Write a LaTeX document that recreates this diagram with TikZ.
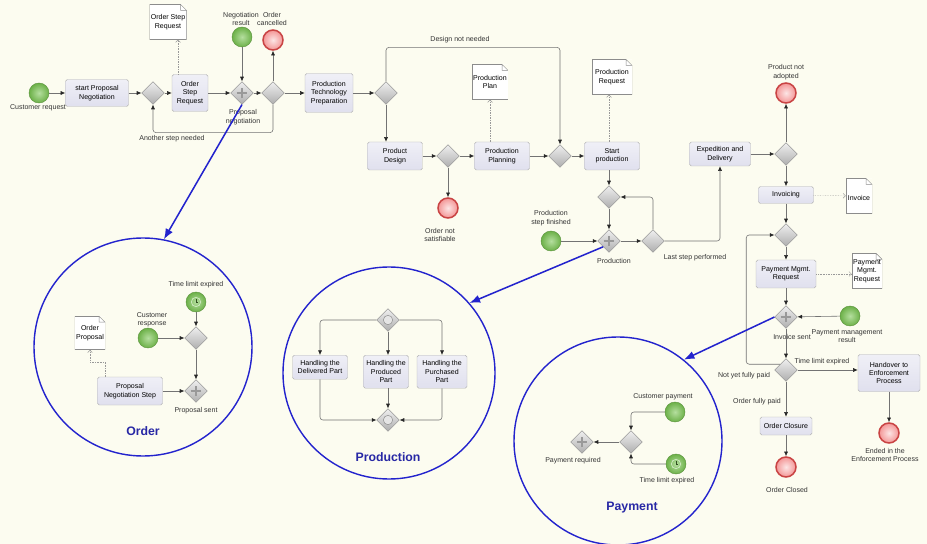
\documentclass[tikz,border=0pt]{standalone}
\usepackage{fontspec}
\setmainfont{Liberation Sans}
\usetikzlibrary{shapes.geometric}
\usetikzlibrary{arrows.meta}

\definecolor{fondo}{RGB}{252,252,240}
\definecolor{tarea}{RGB}{224,224,238}
\definecolor{verde}{RGB}{120,196,80}
\definecolor{rojo}{RGB}{236,80,80}
\definecolor{azul}{RGB}{35,35,205}
\definecolor{azultit}{RGB}{40,40,165}
\newcommand{\chico}{\fontsize{6}{7.2}\selectfont}

\tikzset{
  task/.style={rectangle, rounded corners=1.5pt, draw=black!30, top color=white!50!tarea, bottom color=tarea, font=\chico, align=center, inner sep=1.5pt},
  gate/.style={diamond, aspect=1, minimum size=0.68cm, inner sep=0pt, draw=black!40, top color=black!6, bottom color=black!32},
  pgate/.style={gate, path picture={\draw[black!40, line width=1.8pt] (path picture bounding box.center) +(-4.5pt,0) -- +(4.5pt,0) +(0,-4.5pt) -- +(0,4.5pt);}},
  igate/.style={gate, path picture={\draw[black!45, fill=black!10] (path picture bounding box.center) circle (4pt);}},
  start/.style={circle, minimum size=0.6cm, inner sep=0pt, draw=verde!75!black, inner color=white!45!verde, outer color=verde!90!black},
  timer/.style={start, path picture={\draw[white!70!verde, line width=0.5pt] (path picture bounding box.center) circle (4pt); \draw[verde!40!black, line width=0.4pt] (path picture bounding box.center) -- +(0,2.8pt) (path picture bounding box.center) -- +(2pt,0);}},
  endev/.style={circle, minimum size=0.6cm, inner sep=0pt, draw=rojo!85!black, line width=1.3pt, inner color=rojo!15, outer color=rojo!60},
  doc/.style={rectangle, fill=white, font=\chico, align=center, inner sep=1pt,
    path picture={
      \fill[fondo] ([xshift=-5pt]path picture bounding box.north east) -- (path picture bounding box.north east) -- ([yshift=-5pt]path picture bounding box.north east) -- cycle;
      \draw[black!45, line width=0.8pt] ([xshift=-5pt]path picture bounding box.north east) -- (path picture bounding box.north west) -- (path picture bounding box.south west) -- (path picture bounding box.south east) -- ([yshift=-5pt]path picture bounding box.north east);
      \draw[black!45, line width=0.4pt] ([xshift=-5pt]path picture bounding box.north east) |- ([yshift=-5pt]path picture bounding box.north east) -- cycle;
    }},
  lbl/.style={font=\chico, align=center, inner sep=0pt, text=black!80},
  flow/.style={draw=black!55, line width=0.5pt, rounded corners=2.5pt, -{Latex[length=4pt,width=3.5pt,color=black!85]}},
  assoc/.style={draw=black!40, line width=0.4pt, densely dotted, -{Straight Barb[length=2pt,width=4pt]}},
  ring/.style={circle, draw=azul, line width=1.2pt, inner sep=0pt},
  zoomarrow/.style={draw=azul, line width=1.3pt, -{Latex[length=9pt,width=7pt]}},
  ringtitle/.style={font=\bfseries\fontsize{10.5}{12}\selectfont, text=azultit}
}

\begin{document}
\begin{tikzpicture}[x=0.03cm, y=-0.03cm]
            \path[use as bounding box, fill=fondo] (0,0) rectangle (927,544);

            % Propuesta
            \node[start] (custreq) at (39,93) {};
            \node[lbl] (custreqlbl) at (38,108) {Customer request};
            \node[task, minimum width=1.89cm, minimum height=0.81cm] (startprop) at (97,93) {start Proposal\\Negotiation};
            \node[gate] (g1) at (153,93) {};
            \node[task, minimum width=1.08cm, minimum height=1.11cm] (orderstep) at (190,93) {Order\\Step\\Request};
            \node[doc, minimum width=1.11cm, minimum height=1.05cm] (orderstepdoc) at (168,22) {Order Step\\Request};
            \node[pgate] (propneg) at (242,93) {};
            \node[lbl] (propneglbl) at (243,117) {Proposal\\negotiation};
            \node[start] (negres) at (242,37) {};
            \node[lbl] (negreslbl) at (241,19) {Negotiation\\result};
            \node[gate] (g2) at (273,93) {};
            \node[endev] (ordcanc) at (273,40) {};
            \node[lbl] (ordcanclbl) at (272,19) {Order\\cancelled};
            \node[lbl] (anotherlbl) at (172,139) {Another step needed};

            % Produccion
            \node[task, minimum width=1.44cm, minimum height=1.17cm] (ptp) at (329,93) {Production\\Technology\\Preparation};
            \node[gate] (g3) at (386,93) {};
            \node[lbl] (designlbl) at (460,40) {Design not needed};
            \node[task, minimum width=1.65cm, minimum height=0.84cm] (pdesign) at (395,156) {Product\\Design};
            \node[gate] (g5) at (448,156) {};
            \node[endev] (notsat) at (448,208) {};
            \node[lbl] (notsatlbl) at (440,235) {Order not\\satisfiable};
            \node[task, minimum width=1.65cm, minimum height=0.84cm] (pplan) at (502,156) {Production\\Planning};
            \node[doc, minimum width=0.75cm, minimum height=1.05cm] (pplandoc) at (490,82) {Production\\Plan};
            \node[gate] (g4) at (560,156) {};
            \node[task, minimum width=1.65cm, minimum height=0.84cm] (startprod) at (612,156) {Start\\production};
            \node[doc, minimum width=1.2cm, minimum height=1.05cm] (prodreqdoc) at (612,77) {Production\\Request};
            \node[gate] (g6) at (609,197) {};
            \node[pgate] (prodpg) at (609,241) {};
            \node[lbl] (prodpglbl) at (614,261) {Production};
            \node[start] (stepfin) at (551,241) {};
            \node[lbl] (stepfinlbl) at (551,218) {Production\\step finished};
            \node[gate] (g7) at (653,241) {};
            \node[lbl] (lastlbl) at (695,258) {Last step performed};

            % Entrega y cobro
            \node[task, minimum width=1.83cm, minimum height=0.72cm] (exped) at (720,154) {Expedition and\\Delivery};
            \node[gate] (g8) at (786,154) {};
            \node[endev] (notadopt) at (786,93) {};
            \node[lbl] (notadoptlbl) at (786,72) {Product not\\adopted};
            \node[task, minimum width=1.65cm, minimum height=0.51cm] (invoicing) at (786,195) {Invoicing};
            \node[doc, minimum width=0.78cm, minimum height=1.05cm] (invdoc) at (859,196) {\mbox{}\\Invoice};
            \node[gate] (g9) at (786,235) {};
            \node[task, minimum width=1.8cm, minimum height=0.84cm] (paymreq) at (786,274) {Payment Mgmt.\\Request};
            \node[doc, minimum width=0.9cm, minimum height=1.05cm] (paymdoc) at (867,271) {Payment\\Mgmt.\\Request};
            \node[pgate] (invsent) at (786,317) {};
            \node[lbl] (invsentlbl) at (792,337) {Invoice sent};
            \node[start] (paymres) at (850,316) {};
            \node[lbl] (paymreslbl) at (847,336) {Payment management\\result};
            \node[gate] (g10) at (786,370) {};
            \node[lbl] (nyfplbl) at (744,376) {Not yet fully paid};
            \node[lbl] (tlelbl) at (822,362) {Time limit expired};
            \node[task, minimum width=1.86cm, minimum height=1.11cm] (handover) at (889,373) {Handover to\\Enforcement\\Process};
            \node[endev] (endenf) at (889,433) {};
            \node[lbl] (endenflbl) at (885,455) {Ended in the\\Enforcement Process};
            \node[lbl] (fplbl) at (757,402) {Order fully paid};
            \node[task, minimum width=1.56cm, minimum height=0.54cm] (ordclos) at (786,426) {Order Closure};
            \node[endev] (ordclosed) at (786,467) {};
            \node[lbl] (ordclosedlbl) at (787,490) {Order Closed};

            % Flujos
            \draw[flow] (custreq) -- (startprop);
            \draw[flow] (startprop) -- (g1);
            \draw[flow] (g1) -- (orderstep);
            \draw[assoc] ([xshift=-0.36cm]orderstep.north) -- ([xshift=-0.36cm]orderstep.north |- orderstepdoc.south);
            \draw[flow] (orderstep) -- (propneg);
            \draw[flow] (negres) -- (propneg);
            \draw[flow] (propneg) -- (g2);
            \draw[flow] (g2) -- (ordcanc);
            \draw[flow] (g2.south) -- ++(0,28) -| (g1.south);
            \draw[flow] (g2) -- (ptp);
            \draw[flow] (ptp) -- (g3);
            \draw[flow] (g3.north) -- ++(0,-34) -| (g4.north);
            \draw[flow] (g3.south) -- (g3.south |- pdesign.north);
            \draw[flow] (pdesign) -- (g5);
            \draw[flow] (g5) -- (notsat);
            \draw[flow] (g5) -- (pplan);
            \draw[assoc] (pplan.north -| pplandoc.south) -- (pplandoc.south);
            \draw[flow] (pplan) -- (g4);
            \draw[flow] (g4) -- (startprod);
            \draw[assoc] (startprod.north -| g6.north) -- (g6.north |- prodreqdoc.south);
            \draw[flow] (g6.north |- startprod.south) -- (g6.north);
            \draw[flow] (g6) -- (prodpg);
            \draw[flow] (stepfin) -- (prodpg);
            \draw[flow] (prodpg) -- (g7);
            \draw[flow] (g7.north) |- (g6.east);
            \draw[flow] (g7.east) -| (exped.south);
            \draw[flow] (exped) -- (g8);
            \draw[flow] (g8) -- (notadopt);
            \draw[flow] (g8) -- (invoicing);
            \draw[assoc] (invoicing) -- (invdoc);
            \draw[flow] (invoicing) -- (g9);
            \draw[flow] (g9) -- (paymreq);
            \draw[assoc] (paymreq) -- (paymreq -| paymdoc.west);
            \draw[flow] (paymreq) -- (invsent);
            \draw[flow] (paymres) -- (invsent);
            \draw[flow] (invsent) -- (g10);
            \draw[flow] (g10.north west) -- ++(-34,0) |- (g9.west);
            \draw[flow] (g10.east) -- (handover.west |- g10.east);
            \draw[flow] (handover) -- (endenf);
            \draw[flow] (g10) -- (ordclos);
            \draw[flow] (ordclos) -- (ordclosed);

            % Detalle: Order
            \node[ring, minimum size=6.54cm] (ordring) at (143,347) {};
            \node[timer] (otimer) at (196,302) {};
            \node[lbl] (otimerlbl) at (196,285) {Time limit expired};
            \node[start] (custresp) at (148,338) {};
            \node[lbl] (custresplbl) at (152,320) {Customer\\response};
            \node[gate] (og) at (196,338) {};
            \node[pgate] (osent) at (196,391) {};
            \node[lbl] (osentlbl) at (196,411) {Proposal sent};
            \node[task, minimum width=1.95cm, minimum height=0.84cm] (propstep) at (130,391) {Proposal\\Negotiation Step};
            \node[doc, minimum width=0.78cm, minimum height=1.0cm] (ordpropdoc) at (90,333) {Order\\Proposal};
            \node[ringtitle] (ordtitle) at (143,431) {Order};
            \draw[flow] (otimer) -- (og);
            \draw[flow] (custresp) -- (og);
            \draw[flow] (og) -- (osent);
            \draw[flow] (propstep) -- (osent);
            \draw[assoc] ([xshift=-0.75cm]propstep.north) -- ++(0,-15) -| (ordpropdoc.south);
            \draw[zoomarrow] (propneg.south) -- (ordring.79);

            % Detalle: Production
            \node[ring, minimum size=6.36cm] (prodring) at (389,373) {};
            \node[igate] (pgtop) at (388,320) {};
            \node[task, anchor=north, minimum width=1.65cm, minimum height=0.72cm] (hdeliv) at (320,355) {Handling the\\Delivered Part};
            \node[task, anchor=north, minimum width=1.35cm, minimum height=0.99cm] (hprod) at (386,355) {Handling the\\Produced\\Part};
            \node[task, anchor=north, minimum width=1.5cm, minimum height=0.99cm] (hpurch) at (442,355) {Handling the\\Purchased\\Part};
            \node[igate] (pgbot) at (388,420) {};
            \node[ringtitle] (prodtitle) at (388,457) {Production};
            \draw[flow] (pgtop.west) -| (hdeliv.north);
            \draw[flow] (pgtop.south) -- (pgtop.south |- hprod.north);
            \draw[flow] (pgtop.east) -| (hpurch.north);
            \draw[flow] (hdeliv.south) |- (pgbot.west);
            \draw[flow] (hprod.south -| pgbot.north) -- (pgbot.north);
            \draw[flow] (hpurch.south) |- (pgbot.east);
            \draw[zoomarrow] (prodpg.south west) -- (prodring.41);

            % Detalle: Payment
            \node[ring, minimum size=6.24cm] (payring) at (618,441) {};
            \node[start] (custpay) at (675,412) {};
            \node[lbl] (custpaylbl) at (663,397) {Customer payment};
            \node[timer] (paytimer) at (676,464) {};
            \node[lbl] (paytimerlbl) at (667,481) {Time limit expired};
            \node[gate] (payg) at (631,442) {};
            \node[pgate] (payreq) at (582,442) {};
            \node[lbl] (payreqlbl) at (573,461) {Payment required};
            \node[ringtitle] (paytitle) at (632,508) {Payment};
            \draw[flow] (custpay.west) -| (payg.north);
            \draw[flow] (paytimer.west) -| (payg.south);
            \draw[flow] (payg) -- (payreq);
            \draw[zoomarrow] (invsent.west) -- (payring.51);
\end{tikzpicture}
\end{document}
